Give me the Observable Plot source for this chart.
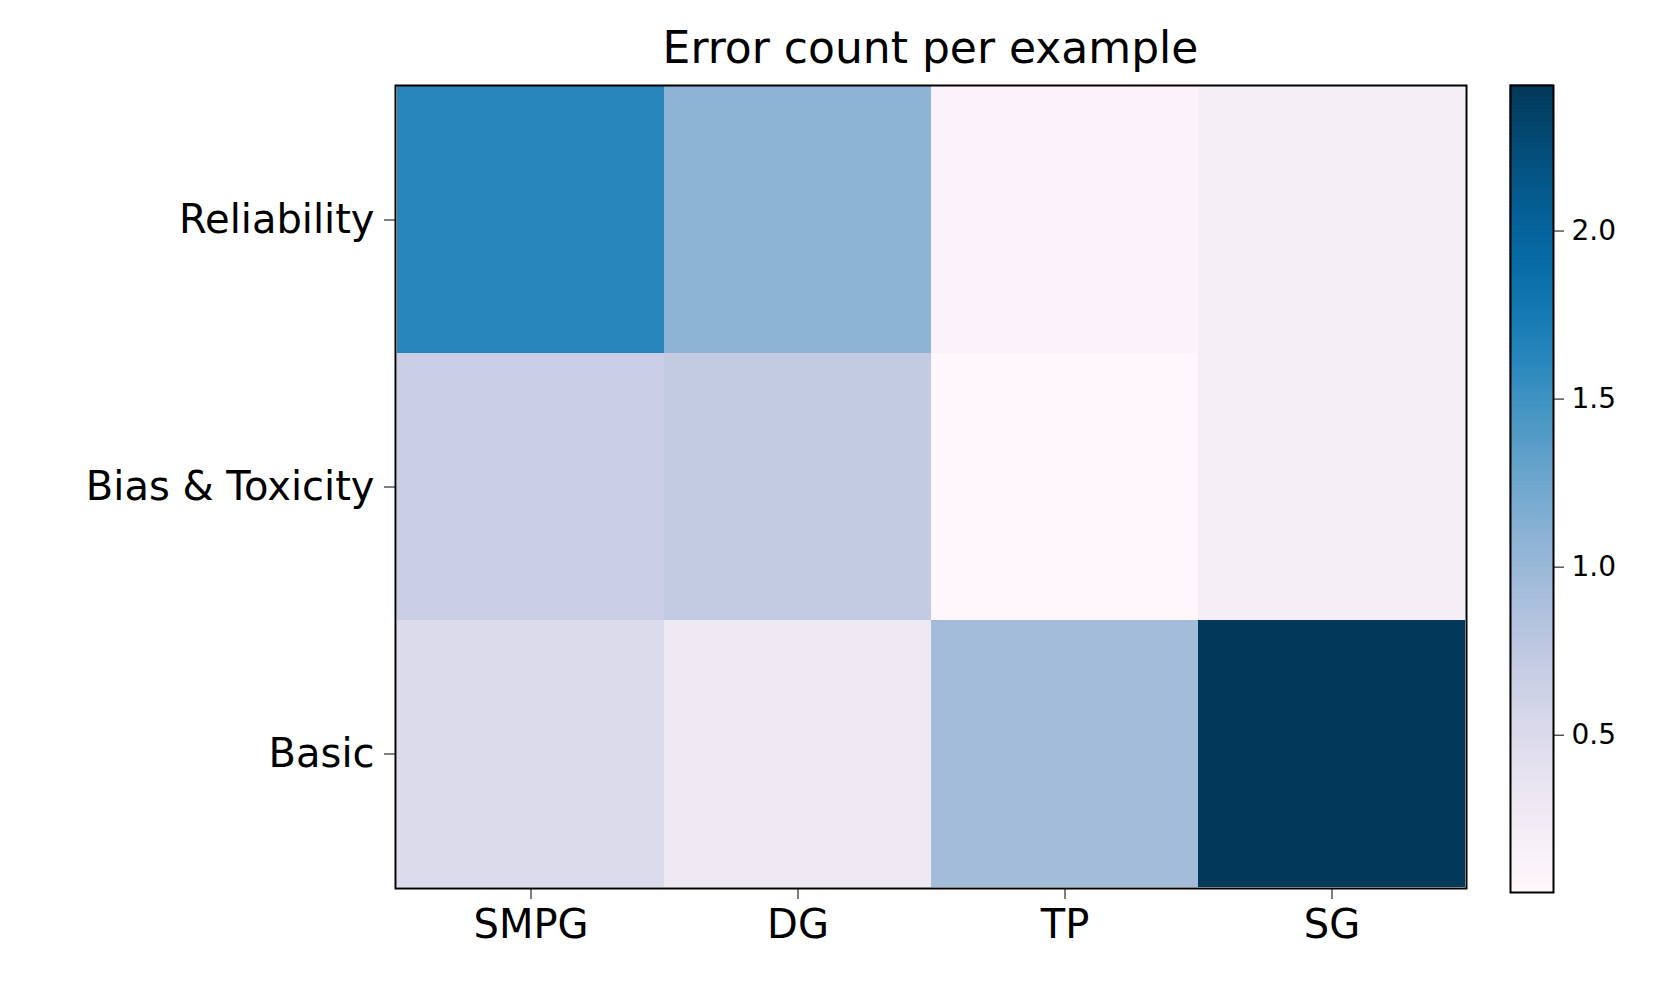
<!DOCTYPE html>
<html>
<head>
<meta charset="utf-8">
<script src="https://cdn.jsdelivr.net/npm/d3@7"></script>
<script src="https://cdn.jsdelivr.net/npm/@observablehq/plot@0.6"></script>
<style>
  body { margin: 0; background: #fff; font-family: "DejaVu Sans", sans-serif; }
  #wrap { position: relative; width: 1662px; height: 987px; }
  #wrap > * { position: absolute; top: 0; }
  #title { left: 395px; width: 1071px; top: 18px; text-align: center; font-size: 44px; line-height: 60px; }
</style>
</head>
<body>
<div id="wrap"><div id="title">Error count per example</div></div>
<script>
const methods = ["SMPG", "DG", "TP", "SG"];
const categories = ["Reliability", "Bias & Toxicity", "Basic"];
const values = [
  [1.62, 1.08, 0.10, 0.20],  // Reliability
  [0.66, 0.72, 0.032, 0.19], // Bias & Toxicity
  [0.50, 0.28, 0.95, 2.43]   // Basic
];
const colorDomain = [0.032, 2.433];
const colorTicks = [0.5, 1.0, 1.5, 2.0];

const cells = categories.flatMap((c, i) => methods.map((m, j) => ({cat: c, method: m, value: values[i][j]})));
const color = {type: "linear", scheme: "PuBu", domain: colorDomain};

const heat = Plot.plot({
  width: 1490, height: 987,
  marginLeft: 395, marginRight: 24, marginTop: 85, marginBottom: 99,
  style: {fontFamily: "DejaVu Sans", fontSize: "40px", color: "#000"},
  x: {domain: methods, padding: 0, label: null, tickSize: 11, tickPadding: 10},
  y: {domain: categories, padding: 0, label: null, tickSize: 11, tickPadding: 10},
  color,
  marks: [
    Plot.cell(cells, {x: "method", y: "cat", fill: "value", inset: 0}),
    Plot.frame({stroke: "#000", strokeWidth: 2})
  ]
});

const steps = d3.range(0, 200).map(k => {
  const a = colorDomain[0] + (colorDomain[1] - colorDomain[0]) * k / 200;
  const b = colorDomain[0] + (colorDomain[1] - colorDomain[0]) * (k + 1) / 200;
  return {a, b};
});
const bar = Plot.plot({
  width: 172, height: 987,
  marginLeft: 20, marginRight: 109, marginTop: 85, marginBottom: 95,
  style: {fontFamily: "DejaVu Sans", fontSize: "28px", color: "#000"},
  x: {axis: null, domain: [0, 1]},
  y: {domain: colorDomain, ticks: colorTicks, tickFormat: d3.format(".1f"), axis: "right", label: null, tickSize: 10, tickPadding: 8},
  color,
  marks: [
    Plot.rect(steps, {x1: 0, x2: 1, y1: "a", y2: "b", fill: d => (d.a + d.b) / 2, stroke: d => (d.a + d.b) / 2, strokeWidth: 1}),
    Plot.frame({stroke: "#000", strokeWidth: 2})
  ]
});
bar.style.left = "1490px";

const wrap = document.getElementById("wrap");
wrap.insertBefore(heat, wrap.firstChild);
wrap.appendChild(bar);
</script>
</body>
</html>
